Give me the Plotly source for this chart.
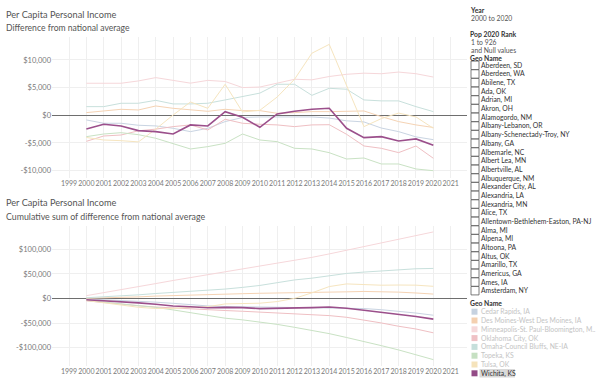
import plotly.graph_objects as go
import numpy as np

# ---------------- data (thousands of $, difference from national average) -------------
years = list(range(2000, 2021))
tick_years = list(range(1999, 2022))

cedar_rapids = [-0.84, -1.44, -1.44, -1.8, -1.92, -2.35, -2.95, -2.35, -1.14, -0.4, -0.3,
                -0.3, -0.2, -0.3, -0.5, -1.0, -1.2, -2.3, -2.95, -3.9, -4.4]
des_moines = [0.48, 0.72, 1.08, 0.96, 1.68, 1.26, 0.96, 0.72, 1.08, 0.84, 0.84,
              0.36, 0.48, 0.66, 0.66, 0.78, 0.78, -0.24, -1.14, -1.74, -2.2]
minneapolis = [5.78, 5.78, 5.78, 6.2, 6.8, 6.3, 5.8, 6.3, 6.1, 5.0, 5.1,
               5.8, 6.5, 6.4, 7.0, 7.4, 7.6, 7.5, 7.8, 7.5, 6.9]
oklahoma_city = [-4.7, -3.74, -3.56, -2.8, -2.5, -2.05, -1.74, -2.65, -0.72, -1.44, -1.62,
                 -1.74, -2.05, -1.74, -1.7, -3.43, -5.54, -5.96, -6.74, -5.54, -7.76]
omaha = [1.56, 1.56, 2.17, 2.17, 2.7, 2.05, 2.05, 2.17, 2.77, 3.37, 4.0,
         5.6, 5.6, 3.6, 4.87, 4.7, 2.77, 2.6, 2.6, 1.56, 0.66]
topeka = [-3.86, -3.38, -3.14, -3.5, -4.15, -5.18, -6.08, -5.66, -5.06, -3.38, -4.46,
          -4.76, -5.96, -6.08, -6.75, -7.89, -7.71, -8.79, -8.79, -9.69, -10.0]
tulsa = [-4.0, -4.46, -4.58, -4.8, -2.5, 0.05, 2.4, 1.26, 5.6, 0.6, 0.9,
         3.3, 6.5, 11.2, 12.8, 5.4, -2.05, -0.6, 0.4, -0.3, -2.35]
wichita = [-2.47, -1.62, -1.93, -2.77, -2.95, -3.37, -1.74, -1.93, 0.66, -0.36, -2.17,
           0.24, 0.72, 1.08, 1.26, -2.35, -4.03, -3.85, -4.63, -4.27, -5.42]

geo_names = ["Cedar Rapids, IA", "Des Moines-West Des Moines, IA",
             "Minneapolis-St. Paul-Bloomington, M..", "Oklahoma City, OK",
             "Omaha-Council Bluffs, NE-IA", "Topeka, KS", "Tulsa, OK", "Wichita, KS"]
series_values = [cedar_rapids, des_moines, minneapolis, oklahoma_city, omaha, topeka, tulsa, wichita]
series_colors = ["#c9d4e2", "#f5d3b4", "#f6d7da", "#efbfc3", "#c8e0dc", "#c9e2c4", "#f6e5bf", "#9b4f8b"]
legend_colors = ["#c6d2e0", "#f4d0b0", "#f6d9db", "#efc1c5", "#c6dfdb", "#c6e0c2", "#f5e3bb", "#934b86"]

top_ticks = [10000, 5000, 0, -5000, -10000]
top_ticktext = ["$10,000", "$5,000", "$0", "-$5,000", "-$10,000"]
bot_ticks = [100000, 50000, 0, -50000, -100000]
bot_ticktext = ["$100,000", "$50,000", "$0", "-$50,000", "-$100,000"]

filter_names = ["Aberdeen, SD", "Aberdeen, WA", "Abilene, TX", "Ada, OK", "Adrian, MI",
                "Akron, OH", "Alamogordo, NM", "Albany-Lebanon, OR", "Albany-Schenectady-Troy, NY",
                "Albany, GA", "Albemarle, NC", "Albert Lea, MN", "Albertville, AL",
                "Albuquerque, NM", "Alexander City, AL", "Alexandria, LA", "Alexandria, MN",
                "Alice, TX", "Allentown-Bethlehem-Easton, PA-NJ", "Alma, MI", "Alpena, MI",
                "Altoona, PA", "Altus, OK", "Amarillo, TX", "Americus, GA", "Ames, IA",
                "Amsterdam, NY"]

# ---------------- layout helpers ----------------
W, H = 600, 383
FONT = "Lato"


def px(x):
    return x / W


def py(y):
    return 1 - y / H


fig = go.Figure()

for name, vals, color in zip(geo_names, series_values, series_colors):
    v = np.array(vals) * 1000.0
    width = 1.6 if name == "Wichita, KS" else 1.0
    fig.add_trace(go.Scatter(x=years, y=v, mode="lines", name=name,
                             line=dict(color=color, width=width),
                             xaxis="x", yaxis="y", showlegend=False))
    fig.add_trace(go.Scatter(x=years, y=np.cumsum(v), mode="lines", name=name,
                             line=dict(color=color, width=width),
                             xaxis="x2", yaxis="y2", showlegend=False))

grid = "#efefef"
ytickfont = dict(family=FONT, size=7.5, color="#7a7a7a")
xtickfont = dict(family=FONT, size=7, color="#7a7a7a")
xcommon = dict(range=[1998.02, 2021.94], tickmode="array", tickvals=tick_years,
               showgrid=True, gridcolor=grid, gridwidth=1, zeroline=False,
               tickfont=xtickfont, tickangle=0, ticks="", showline=False, fixedrange=True)
ycommon = dict(showgrid=True, gridcolor=grid, gridwidth=1, zeroline=True,
               zerolinecolor="#6e6e6e", zerolinewidth=1.3, tickfont=ytickfont,
               ticks="", tickmode="array", showline=False, fixedrange=True)

fig.update_layout(
    width=W, height=H,
    margin=dict(l=0, r=0, t=0, b=0),
    paper_bgcolor="white", plot_bgcolor="white",
    xaxis=dict(domain=[px(52), px(467)], anchor="y", **xcommon),
    yaxis=dict(domain=[py(178), py(37)], range=[-11320, 14130], anchor="x",
               tickvals=top_ticks, ticktext=top_ticktext, **ycommon),
    xaxis2=dict(domain=[px(52), px(467)], anchor="y2", **xcommon),
    yaxis2=dict(domain=[py(366), py(225.7)], range=[-137200, 148000], anchor="x2",
                tickvals=bot_ticks, ticktext=bot_ticktext, **ycommon),
    showlegend=False,
    hovermode=False,
)

annotations = []
shapes = []


def text(x, y, s, size, color, bold=False, family=FONT):
    annotations.append(dict(x=px(x), y=py(y), xref="paper", yref="paper",
                            xanchor="left", yanchor="middle", showarrow=False,
                            borderpad=0, borderwidth=0,
                            text=("<b>%s</b>" % s) if bold else s,
                            font=dict(family=family, size=size, color=color)))


# chart titles
text(6, 15, "Per Capita Personal Income", 9.2, "#555555")
text(6, 28.5, "Difference from national average", 8.6, "#555555")
text(6, 202, "Per Capita Personal Income", 9.2, "#555555")
text(6, 216.5, "Cumulative sum of difference from national average", 8.8, "#555555")

# right-side filter panel
LF = 6.8
text(470, 10, "Year", LF, "#333333", bold=True)
text(471, 18.5, "2000 to 2020", LF, "#555555")
text(470, 33.5, "Pop 2020 Rank", LF, "#333333", bold=True)
text(471, 42, "1 to 926", LF, "#555555")
text(471, 49.8, "and Null values", LF, "#555555")
text(470, 57.6, "Geo Name", LF, "#333333", bold=True)

for i, nm in enumerate(filter_names):
    yc = 65.3 + 8.67 * i
    shapes.append(dict(type="rect", xref="paper", yref="paper",
                       x0=px(471), x1=px(479), y0=py(yc + 4.2), y1=py(yc - 4.2),
                       line=dict(color="#5a5a5a", width=0.8), fillcolor="white"))
    text(480.5, yc, nm, LF, "#333333")

# colour legend
text(470, 302.5, "Geo Name", LF, "#333333", bold=True)
for i, (nm, col) in enumerate(zip(geo_names, legend_colors)):
    yc = 311.7 + 8.8 * i
    selected = nm == "Wichita, KS"
    if selected:
        shapes.append(dict(type="rect", xref="paper", yref="paper",
                           x0=px(479.5), x1=px(515), y0=py(yc + 4.3), y1=py(yc - 4.3),
                           line=dict(width=0), fillcolor="#d9d9d9", layer="below"))
    shapes.append(dict(type="rect", xref="paper", yref="paper",
                       x0=px(471.5), x1=px(477.5), y0=py(yc + 3), y1=py(yc - 3),
                       line=dict(width=0), fillcolor=col))
    text(480.5, yc, nm, LF, "#333333" if selected else "#c4c4c4")

fig.update_layout(annotations=annotations, shapes=shapes)
fig.write_html("out.html", config={"displayModeBar": False, "staticPlot": True},
               post_script="document.body.style.margin='0';document.body.style.padding='0';")
